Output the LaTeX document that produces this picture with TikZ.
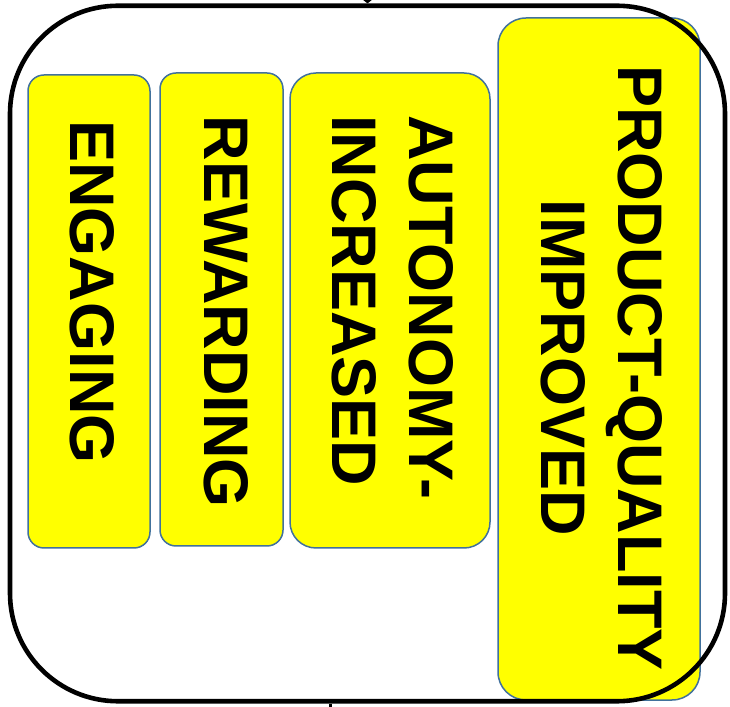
\documentclass[tikz,border=0pt]{standalone}
\usepackage{fontspec}
\setmainfont{Liberation Sans}
\usetikzlibrary{arrows.meta}
\definecolor{boxfill}{HTML}{FFFF00}
\definecolor{boxline}{HTML}{41719C}
\tikzset{
  ybox/.style={draw=boxline, fill=boxfill, line width=1.5pt, inner sep=0pt},
  lbl/.style={font=\fontsize{63}{77}\selectfont\bfseries, rotate=-90, inner sep=0pt, text=black},
  outerbox/.style={draw=black, line width=4.6pt, rounded corners=108pt, inner sep=0pt,
    minimum width=715pt, minimum height=695.5pt},
}
\begin{document}
\begin{tikzpicture}[x=1pt,y=1pt]
\useasboundingbox (0,0) rectangle (730,706);
% outer white fill
\fill[white, rounded corners=108pt] (10,4.75) rectangle (725,700.25);
% boxes
\node[ybox, rounded corners=16pt, minimum width=122pt, minimum height=473pt] (b1) at (89,394.5) {};
\node[ybox, rounded corners=16pt, minimum width=123pt, minimum height=473pt] (b2) at (221.5,396.5) {};
\node[ybox, rounded corners=26pt, minimum width=200pt, minimum height=475pt] (b3) at (390,395.5) {};
\node[ybox, rounded corners=28pt, minimum width=202pt, minimum height=682pt] (b4) at (599,347) {};
% labels
\node[lbl] (t1) at (92,414) {ENGAGING};
\node[lbl] (t2) at (226,394) {REWARDING};
\node[lbl, align=left, anchor=west] (t3) at (392.5,591) {AUTONOMY-\\INCREASED};
\node[lbl, align=center] (t4) at (601.5,338) {PRODUCT-QUALITY\\IMPROVED};
% outer frame on top
\node[outerbox] (outer) at (367.5,352.5) {};
% cut-off connectors
\coordinate (topin) at (367.5,730);
\coordinate (botout) at (330,-20);
\draw[line width=1pt, -{Straight Barb[length=8pt, width=20pt, line width=3pt]}] (topin) -- (outer.north);
\draw[line width=3pt] (outer.south -| botout) -- (botout);
\end{tikzpicture}
\end{document}
